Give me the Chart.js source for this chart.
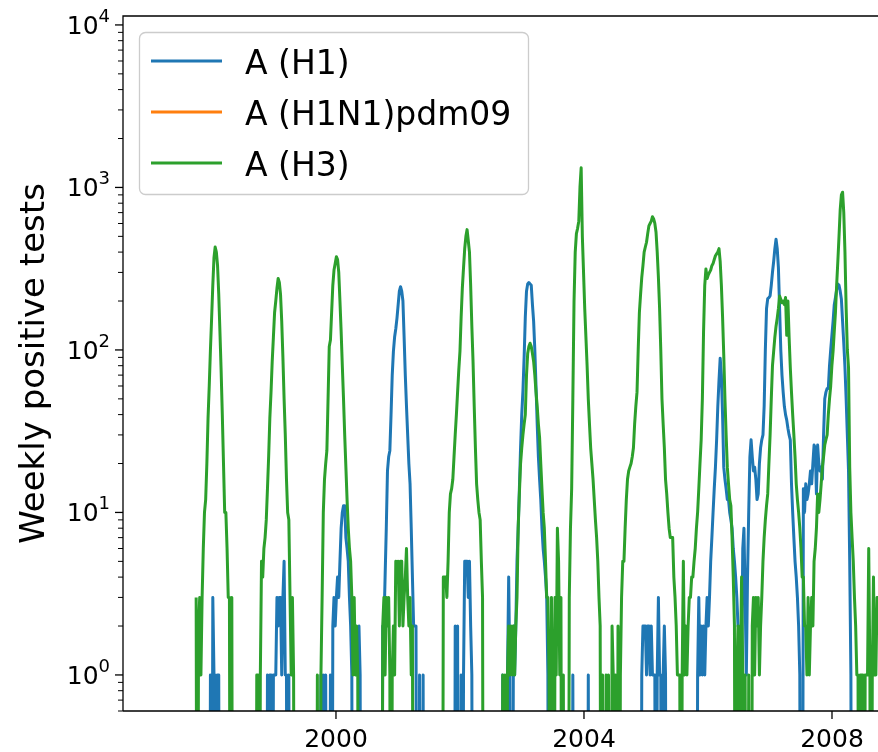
<!DOCTYPE html>
<html>
<head>
<meta charset="utf-8">
<script src="https://cdn.jsdelivr.net/npm/chart.js@4.4.1/dist/chart.umd.min.js"></script>
<style>
  html, body { margin: 0; padding: 0; background: #fff; }
  canvas { display: block; }
</style>
</head>
<body>
<canvas id="chart" width="878" height="752"></canvas>
<script>
// weekly counts, one row per season (week 40 -> week 39), starting 1997 week 40
const SEASON_START = 1997.745;
const WEEK = 7 / 365.25;

const seriesNames = ['A (H1)', 'A (H1N1)pdm09', 'A (H3)'];
const seriesColors = ['#1f77b4', '#ff7f0e', '#2ca02c'];
const xTickYears = [2000, 2004, 2008];
const yTickPowers = [0, 1, 2, 3, 4];
const xRange = [1996.565, 2008.742];
const yRange = [0.6466, 11350];

const h1Weekly = [
  // 1997-98
  0,0,0,0,0,0,0,0,0,0, 0,0,1,0,3,1,1,0,1,1, 0,0,0,0,0,0,0,0,0,0, 0,0,0,0,0,0,0,0,0,0, 0,0,0,0,0,0,0,0,0,0, 0,0,
  // 1998-99 (53 weeks)
  0,0,0,0,0,0,0,0,1,0, 1,1,0,1,1,1,3,2,3,3, 1,3,5,1,1,0,1,0,0,0, 0,0,0,0,0,0,0,0,0,0, 0,0,0,0,0,0,0,0,0,0, 0,0,0,
  // 1999-00
  1,0,1,0,1,0,0,0,1,0, 2,3,2,3,4,3,5,8,10,11, 11,7,6,5,3,2,1,0,0,0, 0,0,2,1,0,0,0,0,0,0, 0,0,0,0,0,0,0,0,0,0, 0,0,
  // 2000-01
  2,2,4,8,18,22,24,40,70,98, 120,135,157,190,230,245,230,200,120,70, 45,30,20,15,8,4,2,2,2,0, 0,1,0,0,1,0,0,0,0,0, 0,0,0,0,0,0,0,0,0,0, 0,0,
  // 2001-02
  0,0,0,0,0,0,0,0,0,2, 0,2,0,0,1,0,1,5,5,5, 3,5,2,1,0,0,0,0,0,0, 0,0,0,0,0,0,0,0,0,0, 0,0,0,0,0,0,0,0,0,1, 0,0,
  // 2002-03
  0,1,4,1,0,0,2,1,2,5, 8,14,25,40,56,90,160,230,255,260, 255,250,190,150,100,60,35,22,16,12, 8,6,5,4,3,1,0,0,0,0, 0,0,0,0,0,0,0,0,0,0, 0,0,
  // 2003-04
  0,0,0,0,1,0,0,0,0,0, 0,0,0,0,0,0,0,1,0,0, 0,0,0,0,0,0,0,0,0,0, 0,0,0,0,0,0,0,0,0,0, 0,0,0,0,0,0,0,0,0,0, 0,0,
  // 2004-05 (53 weeks)
  0,0,0,0,0,0,0,0,0,0, 1,2,2,2,1,2,2,1,2,1, 1,1,0,1,3,1,1,0,1,2, 1,0,0,0,0,0,0,0,0,0, 0,0,0,0,0,0,0,0,0,0, 0,0,0,
  // 2005-06
  0,0,0,0,1,3,1,2,1,2, 1,2,3,2,3,5,7,10,14,19, 28,45,65,89,70,40,19,16,14,12, 12,10,9,8,6,5,4,3,2,2, 1,1,6,8,3,1,4,10,22,28, 22,18,
  // 2006-07
  19,16,12,13,20,25,28,30,45,100, 180,207,210,215,250,300,350,420,480,420, 320,180,100,70,55,45,40,37,33,30, 28,15,10,7,5,4,3,2,1,0, 0,14,10,15,12,13,15,18,15,20, 26,25,
  // 2007-08
  13,26,20,18,19,16,30,50,55,58, 58,80,100,123,150,190,210,235,255,250, 230,205,150,110,78,50,30,18,5,1, 0,0,0,0,0,0,0,0,0,0, 0,0,0,0,0,0,0,0,0,0, 0,0,
  // 2008-09 (first weeks)
  0,0
];

const h1n1pdm09Weekly = []; // pandemic strain only appears from 2009 on

const h3Weekly = [
  // 1997-98
  3,0,2,3,1,3,6,10,12,20, 38,60,100,156,250,370,430,400,330,220, 130,75,40,20,10,10,6,3,3,0, 3,0,0,0,0,0,0,0,0,0, 0,0,0,0,0,0,0,0,0,0, 0,1,
  // 1998-99 (53 weeks)
  1,0,1,5,4,6,7,9,14,22, 38,55,85,120,170,200,240,275,260,220, 150,90,50,30,16,10,9,3,1,3, 1,0,0,0,0,0,0,0,0,0, 0,0,0,0,0,0,0,0,0,0, 1,0,0,
  // 1999-00
  1,3,10,16,20,24,50,105,115,170, 250,310,340,375,360,300,200,130,80,50, 30,19,12,8,6,5,3,1,3,1, 2,1,0,0,0,0,0,0,0,0, 0,0,0,0,0,0,0,0,0,0, 0,0,
  // 2000-01
  2,3,1,3,2,3,1,0,1,2, 1,5,4,5,2,5,5,2,3,4, 6,3,2,3,1,2,0,0,0,0, 0,0,0,0,0,0,0,0,0,0, 0,0,0,0,0,0,0,0,0,0, 0,4,
  // 2001-02
  4,4,3,5,10,13,14,16,22,30, 40,55,75,98,160,240,320,420,500,550, 470,400,250,140,85,45,25,15,12,10, 9,5,3,0,0,0,0,0,0,0, 0,0,0,0,0,0,0,0,0,1, 0,1,
  // 2002-03
  0,1,2,1,2,1,2,1,2,3, 8,13,20,25,30,35,40,70,95,105, 110,105,95,85,70,55,45,35,29,20, 14,10,8,5,3,3,1,0,3,1, 0,3,1,8,5,1,3,0,1,0, 0,0,
  // 2003-04
  0,3,8,14,50,200,400,520,560,620, 1000,1320,500,300,180,120,80,50,35,25, 20,16,12,9,7,5,3,2,0,1, 0,0,1,0,1,0,0,2,1,0, 1,0,2,0,1,3,5,5,8,12, 16,18,
  // 2004-05 (53 weeks)
  19,20,22,25,35,45,55,100,170,220, 280,330,400,430,460,520,580,600,620,660, 640,600,530,400,280,180,100,50,35,25, 16,13,10,8,7,7,7,4,3,2, 1,1,1,0,1,5,1,2,1,2, 3,3,4,
  // 2005-06
  4,5,6,8,10,14,20,28,50,130, 250,315,275,290,300,310,330,340,360,380, 390,400,420,350,250,160,93,50,30,19, 15,12,11,7,4,2,0,1,2,0, 1,4,1,0,1,0,0,1,0,0, 2,3,
  // 2006-07
  1,3,2,3,1,2,3,5,7,9, 11,13,20,30,50,80,98,120,140,157, 180,215,205,195,200,190,210,123,200,120, 78,55,40,30,22,15,12,10,8,6, 4,4,2,2,1,3,1,2,3,2, 5,6,
  // 2007-08
  8,13,10,12,15,19,22,26,28,30, 40,50,60,80,98,130,170,250,350,500, 730,900,935,700,400,180,100,78,19,10, 7,5,3,2,1,1,0,1,1,1, 0,1,1,1,6,1,0,1,4,1, 1,3,
  // 2008-09 (first weeks)
  3,2
];

// zero counts drop below the log axis and get clipped, like matplotlib does
const CLIP_FLOOR = 1e-3;
function toPoints(values) {
  return values.map((v, i) => ({ x: SEASON_START + i * WEEK, y: v > 0 ? v : CLIP_FLOOR }));
}

const FONT = '"DejaVu Sans", sans-serif';

const mplAxes = {
  id: 'mplAxes',
  afterDraw(chart) {
    const { ctx, chartArea: a } = chart;
    const xs = chart.scales.x;
    const ys = chart.scales.y;
    ctx.save();
    ctx.strokeStyle = '#000';
    ctx.fillStyle = '#000';

    // spines (the right one is outside the picture)
    ctx.lineWidth = 1.3;
    ctx.beginPath();
    ctx.moveTo(a.left, a.bottom);
    ctx.lineTo(a.right, a.bottom);
    ctx.moveTo(a.left, a.bottom);
    ctx.lineTo(a.left, a.top);
    ctx.lineTo(a.right, a.top);
    ctx.stroke();

    // y ticks: majors at powers of ten, minors in between
    for (let p = -1; p <= 4; p++) {
      for (let k = 1; k <= 9; k++) {
        const v = k * Math.pow(10, p);
        if (v < ys.min || v > ys.max) continue;
        const y = ys.getPixelForValue(v);
        const len = k === 1 ? 8 : 5;
        ctx.lineWidth = k === 1 ? 1.3 : 1;
        ctx.beginPath();
        ctx.moveTo(a.left - len, y);
        ctx.lineTo(a.left, y);
        ctx.stroke();
      }
    }
    ctx.textAlign = 'right';
    ctx.textBaseline = 'alphabetic';
    yTickPowers.forEach(p => {
      const y = ys.getPixelForValue(Math.pow(10, p));
      const sup = String(p);
      ctx.font = '18px ' + FONT;
      ctx.fillText(sup, 110, y - 3);
      const sw = ctx.measureText(sup).width;
      ctx.font = '25px ' + FONT;
      ctx.fillText('10', 110 - sw, y + 9);
    });

    // x ticks
    ctx.lineWidth = 1.3;
    ctx.textAlign = 'center';
    ctx.font = '25px ' + FONT;
    xTickYears.forEach(yr => {
      const x = xs.getPixelForValue(yr);
      ctx.beginPath();
      ctx.moveTo(x, a.bottom);
      ctx.lineTo(x, a.bottom + 8);
      ctx.stroke();
      ctx.fillText(String(yr), x, 747);
    });

    // y axis title
    ctx.save();
    ctx.translate(44, (a.top + a.bottom) / 2);
    ctx.rotate(-Math.PI / 2);
    ctx.textAlign = 'center';
    ctx.font = '34px ' + FONT;
    ctx.fillText('Weekly positive tests', 0, 0);
    ctx.restore();

    // legend box
    const bx = 139.5, by = 32.5, bw = 389, bh = 162, r = 6;
    ctx.beginPath();
    ctx.moveTo(bx + r, by);
    ctx.lineTo(bx + bw - r, by);
    ctx.arcTo(bx + bw, by, bx + bw, by + r, r);
    ctx.lineTo(bx + bw, by + bh - r);
    ctx.arcTo(bx + bw, by + bh, bx + bw - r, by + bh, r);
    ctx.lineTo(bx + r, by + bh);
    ctx.arcTo(bx, by + bh, bx, by + bh - r, r);
    ctx.lineTo(bx, by + r);
    ctx.arcTo(bx, by, bx + r, by, r);
    ctx.closePath();
    ctx.fillStyle = 'rgba(255,255,255,0.8)';
    ctx.fill();
    ctx.strokeStyle = '#cccccc';
    ctx.lineWidth = 1.3;
    ctx.stroke();

    ctx.textAlign = 'left';
    ctx.font = '33px ' + FONT;
    seriesNames.forEach((name, i) => {
      const y = 61 + i * 51;
      ctx.strokeStyle = seriesColors[i];
      ctx.lineWidth = 3;
      ctx.beginPath();
      ctx.moveTo(151, y);
      ctx.lineTo(222, y);
      ctx.stroke();
      ctx.fillStyle = '#000';
      ctx.fillText(name, 245, y + 13);
    });
    ctx.restore();
  }
};

const seriesData = [h1Weekly, h1n1pdm09Weekly, h3Weekly];
const drawOrder = [2, 1, 0]; // H3 drawn on top, as in the original plot

new Chart(document.getElementById('chart'), {
  type: 'line',
  data: {
    datasets: seriesData.map((values, i) => ({
      label: seriesNames[i],
      data: toPoints(values),
      borderColor: seriesColors[i],
      backgroundColor: seriesColors[i],
      borderWidth: 3,
      borderJoinStyle: 'round',
      pointRadius: 0,
      tension: 0,
      fill: false,
      clip: 0,
      order: drawOrder[i]
    }))
  },
  options: {
    responsive: false,
    animation: false,
    devicePixelRatio: 1,
    events: [],
    layout: { padding: { top: 16, right: 0, bottom: 0, left: 0 } },
    plugins: {
      legend: { display: false },
      title: { display: false },
      tooltip: { enabled: false }
    },
    scales: {
      x: {
        type: 'linear',
        min: xRange[0],
        max: xRange[1],
        grid: { display: false },
        border: { display: false },
        ticks: { display: false },
        afterFit(scale) { scale.height = 41; }
      },
      y: {
        type: 'logarithmic',
        min: yRange[0],
        max: yRange[1],
        grid: { display: false },
        border: { display: false },
        ticks: { display: false },
        afterFit(scale) { scale.width = 123; }
      }
    }
  },
  plugins: [mplAxes]
});
</script>
</body>
</html>
